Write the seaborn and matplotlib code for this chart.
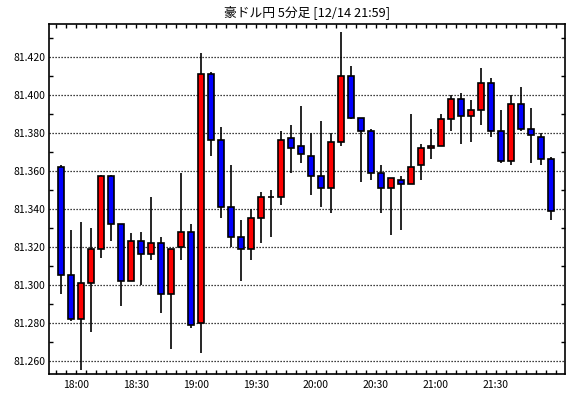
import numpy as np
import pandas as pd
import matplotlib
matplotlib.use("Agg")
import matplotlib.pyplot as plt
import seaborn as sns

# ---- data (AUD/JPY 5-min candles, 17:50 .. 21:55) ----
times = [t.strftime("%H:%M") for t in pd.date_range("2000-01-01 17:50", "2000-01-01 21:55", freq="5min")]
opens = [81.362, 81.305, 81.282, 81.301, 81.319, 81.357, 81.332, 81.302, 81.323, 81.316,
         81.322, 81.295, 81.320, 81.328, 81.280, 81.411, 81.376, 81.341, 81.325, 81.319,
         81.335, 81.346, 81.346, 81.377, 81.373, 81.368, 81.357, 81.351, 81.375, 81.410,
         81.388, 81.381, 81.359, 81.351, 81.355, 81.353, 81.363, 81.372, 81.373, 81.387,
         81.398, 81.389, 81.392, 81.406, 81.381, 81.365, 81.395, 81.382, 81.378, 81.366]
closes = [81.305, 81.282, 81.301, 81.319, 81.357, 81.332, 81.302, 81.323, 81.316, 81.322,
          81.295, 81.319, 81.328, 81.279, 81.411, 81.376, 81.341, 81.325, 81.319, 81.335,
          81.346, 81.346, 81.376, 81.372, 81.369, 81.357, 81.351, 81.375, 81.410, 81.388,
          81.381, 81.359, 81.351, 81.356, 81.353, 81.362, 81.372, 81.373, 81.387, 81.398,
          81.389, 81.392, 81.406, 81.381, 81.365, 81.395, 81.382, 81.379, 81.366, 81.339]
highs = [81.363, 81.329, 81.333, 81.330, 81.358, 81.358, 81.332, 81.327, 81.328, 81.346,
         81.325, 81.319, 81.359, 81.332, 81.422, 81.412, 81.383, 81.363, 81.334, 81.340,
         81.349, 81.350, 81.381, 81.384, 81.394, 81.380, 81.386, 81.380, 81.433, 81.415,
         81.388, 81.382, 81.363, 81.356, 81.357, 81.390, 81.374, 81.382, 81.390, 81.400,
         81.401, 81.397, 81.414, 81.409, 81.392, 81.400, 81.404, 81.393, 81.380, 81.367]
lows = [81.295, 81.281, 81.255, 81.275, 81.314, 81.323, 81.289, 81.302, 81.300, 81.313,
        81.285, 81.266, 81.313, 81.277, 81.264, 81.368, 81.335, 81.320, 81.302, 81.313,
        81.322, 81.325, 81.342, 81.359, 81.364, 81.347, 81.341, 81.338, 81.373, 81.387,
        81.354, 81.355, 81.338, 81.326, 81.329, 81.353, 81.355, 81.366, 81.373, 81.381,
        81.374, 81.375, 81.384, 81.378, 81.364, 81.363, 81.381, 81.364, 81.363, 81.334]
ytick_vals = [81.260, 81.280, 81.300, 81.320, 81.340, 81.360, 81.380, 81.400, 81.420]
xtick_labels = ["18:00", "18:30", "19:00", "19:30", "20:00", "20:30", "21:00", "21:30"]
title = "豪ドル円 5分足 [12/14 21:59]"

sns.set_theme(style="white")
plt.rcParams["font.family"] = ["Noto Sans CJK JP", "DejaVu Sans"]

df = pd.DataFrame({"time": times, "open": opens, "close": closes, "high": highs, "low": lows})
mins = pd.to_datetime(df["time"], format="%H:%M")
df["x"] = (mins.dt.hour - 17) * 60 + mins.dt.minute + 2.5
df["up"] = df["close"] >= df["open"]

fig = plt.figure(figsize=(5.70, 3.98), dpi=100)
ax = fig.add_axes([49.3 / 570, 1 - 374 / 398, (564.5 - 49.3) / 570, (374 - 24.3) / 398])

# grid
for v in ytick_vals:
    ax.axhline(v, color="black", lw=0.9, ls=(0, (1, 1.4)), zorder=0)

ax.vlines(df["x"], df["low"], df["high"], color="black", lw=1.2, zorder=1)
colors = np.where(df["up"], "#ff0000", "#0000ff")
ax.bar(df["x"], df["close"] - df["open"], bottom=df["open"], width=3.2,
       color=colors, edgecolor="black", linewidth=1.2, zorder=2)

ax.set_xlim(46.65, 304.25)
ax.set_ylim(81.2530, 81.4371)

ax.set_yticks(ytick_vals)
ax.set_yticklabels([f"{v:.3f}" for v in ytick_vals])
ax.set_yticks(np.round(np.arange(81.26, 81.44, 0.01), 3), minor=True)
maj_x = [60 + 30 * i for i in range(len(xtick_labels))]
ax.set_xticks(maj_x)
ax.set_xticklabels(xtick_labels)
ax.set_xticks(np.arange(50, 305, 5), minor=True)

ax.tick_params(axis="both", which="both", direction="in", length=3, width=1,
               color="black", labelsize=7.5, labelcolor="black",
               top=True, right=True, left=True, bottom=True)
ax.tick_params(axis="y", which="major", length=0, pad=3)
ax.tick_params(axis="x", which="major", pad=4)
for s in ax.spines.values():
    s.set_color("black")
    s.set_linewidth(1.2)
    s.set_visible(True)
ax.set_xlabel("")
ax.set_ylabel("")

fig.text((49.3 + 564.5) / 2 / 570, 1 - 12 / 398, title, ha="center", va="center",
         fontsize=9.2, color="black")

fig.savefig("out.png", dpi=100)
